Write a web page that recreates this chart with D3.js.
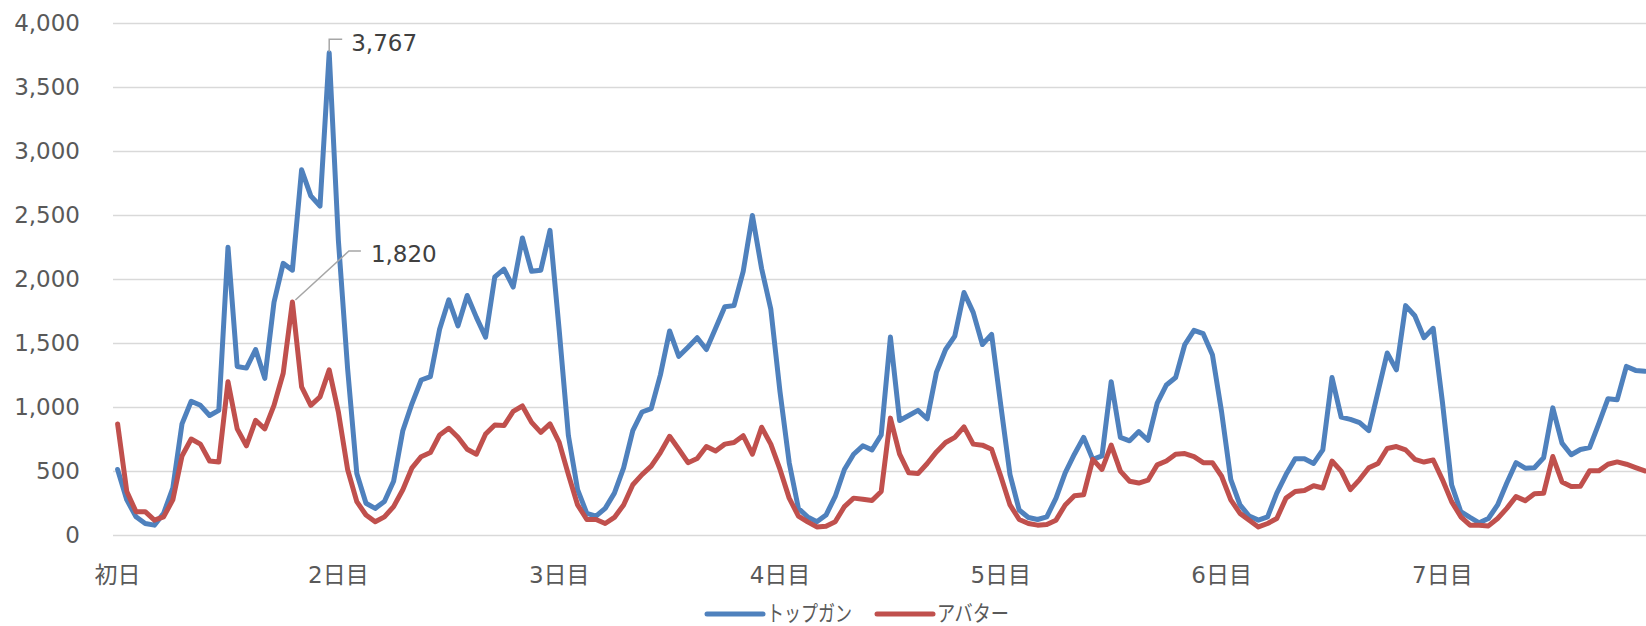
<!DOCTYPE html>
<html>
<head>
<meta charset="utf-8">
<script src="https://cdn.jsdelivr.net/npm/d3@7"></script>
<style>
  body { margin: 0; background: #fff; }
  svg { display: block; font-family: "DejaVu Sans", "Noto Sans CJK JP", sans-serif; }
</style>
</head>
<body>
<svg id="chart" width="1646" height="626"></svg>
<script>
// 日ごとのラベル (24時間ごと)
var dayLabels = ["初日", "2日目", "3日目", "4日目", "5日目", "6日目", "7日目"];
var yTicks = [0, 500, 1000, 1500, 2000, 2500, 3000, 3500, 4000];
var seriesNames = ["トップガン", "アバター"];

// 1時間ごとの値
var topgun = [
  512, 274, 142, 90, 77, 169, 367, 868, 1045, 1013, 934, 974,
  2248, 1317, 1304, 1449, 1224, 1818, 2122, 2069, 2853, 2650, 2570, 3767,
  2300, 1300, 480, 248, 208, 261, 420, 815, 1027, 1211, 1238, 1607,
  1837, 1634, 1871, 1700, 1546, 2016, 2077, 1937, 2320, 2060, 2069, 2380,
  1600, 776, 354, 169, 148, 208, 327, 525, 815, 961, 987, 1251,
  1594, 1396, 1467, 1541, 1449, 1615, 1784, 1792, 2060, 2496, 2082, 1765,
  1119, 565, 208, 142, 103, 156, 301, 512, 631, 697, 665, 781,
  1546, 895, 934, 974, 908, 1270, 1449, 1554, 1895, 1739, 1488, 1568,
  1013, 472, 195, 137, 121, 142, 288, 486, 631, 763, 591, 618,
  1198, 763, 736, 808, 740, 1030, 1172, 1230, 1488, 1599, 1573, 1409,
  961, 433, 235, 148, 116, 142, 327, 472, 596, 596, 559, 665,
  1230, 921, 903, 878, 815, 1119, 1422, 1290, 1792, 1713, 1541, 1615,
  1040, 393, 182, 137, 95, 129, 235, 406, 565, 522, 525, 603,
  993, 718, 627, 668, 683, 870, 1065, 1057, 1317, 1286, 1280
];
var avatar = [
  868, 340, 182, 182, 116, 142, 274, 617, 750, 710, 578, 570,
  1198, 829, 697, 895, 829, 1013, 1264, 1820, 1158, 1013, 1079, 1290,
  960, 512, 261, 156, 103, 142, 222, 354, 525, 612, 644, 781,
  834, 763, 670, 631, 789, 860, 855, 966, 1008, 880, 802, 868,
  723, 472, 235, 121, 121, 90, 137, 235, 393, 472, 538, 644,
  771, 670, 565, 597, 691, 657, 710, 723, 776, 631, 842, 710,
  512, 288, 148, 103, 63, 69, 103, 222, 288, 280, 269, 340,
  913, 631, 486, 480, 559, 649, 723, 763, 845, 710, 702, 670,
  459, 235, 121, 90, 77, 82, 116, 235, 306, 314, 591, 512,
  702, 499, 420, 406, 428, 548, 578, 631, 636, 612, 565, 565,
  459, 274, 169, 116, 63, 90, 129, 288, 340, 348, 385, 367,
  578, 499, 354, 433, 525, 559, 676, 691, 665, 591, 570, 586,
  433, 261, 142, 77, 77, 71, 129, 208, 300, 268, 322, 326,
  613, 414, 379, 381, 501, 501, 553, 571, 553, 527, 501
];

var colors = ["#4F81BD", "#C0504D"];

(function () {
  var svg = d3.select("#chart");

  var plotLeft = 113, plotTop = 23, plotBottom = 535;
  var nCat = dayLabels.length * 24;
  var step = 9.2;

  var x = d3.scaleBand()
    .domain(d3.range(nCat))
    .range([plotLeft, plotLeft + nCat * step]);
  var y = d3.scaleLinear().domain([0, 4000]).range([plotBottom, plotTop]);

  function cx(i) { return x(i) + x.bandwidth() / 2; }

  // grid + y labels
  var yAxis = svg.append("g")
    .attr("transform", "translate(" + plotLeft + ",0)")
    .call(d3.axisLeft(y)
      .tickValues(yTicks)
      .tickFormat(d3.format(","))
      .tickSize(-(1646 - plotLeft))
      .tickPadding(33));
  yAxis.select(".domain").remove();
  yAxis.selectAll(".tick line").attr("stroke", "#D9D9D9").attr("stroke-width", 1.5);
  yAxis.selectAll(".tick text")
    .attr("fill", "#595959")
    .style("font-size", "23px")
    .style("font-family", "DejaVu Sans, sans-serif");

  // x labels
  var xAxis = svg.append("g")
    .attr("transform", "translate(0," + plotBottom + ")")
    .call(d3.axisBottom(x)
      .tickValues(d3.range(0, nCat, 24))
      .tickFormat(function (d) { return dayLabels[d / 24]; })
      .tickSize(0)
      .tickPadding(32));
  xAxis.select(".domain").remove();
  xAxis.selectAll(".tick text")
    .attr("fill", "#595959")
    .style("font-size", "23px")
    .style("font-family", "DejaVu Sans, Noto Sans CJK JP, sans-serif");

  // lines
  var line = d3.line()
    .x(function (d, i) { return cx(i); })
    .y(function (d) { return y(d); });

  [topgun, avatar].forEach(function (s, k) {
    svg.append("path")
      .datum(s)
      .attr("fill", "none")
      .attr("stroke", colors[k])
      .attr("stroke-width", 5)
      .attr("stroke-linejoin", "round")
      .attr("stroke-linecap", "round")
      .attr("d", line);
  });

  // annotations (max of each series)
  var fmt = d3.format(",");
  var iB = d3.maxIndex(topgun), iR = d3.maxIndex(avatar);
  var bx = cx(iB), by = y(topgun[iB]);
  var rx = cx(iR), ry = y(avatar[iR]);

  svg.append("path")
    .attr("d", "M" + bx + "," + (by - 1) + "V" + (by - 13.5) + "H" + (bx + 13))
    .attr("fill", "none").attr("stroke", "#A6A6A6").attr("stroke-width", 1.5);
  svg.append("text")
    .attr("x", bx + 22).attr("y", by - 2)
    .attr("fill", "#404040").style("font-size", "23px")
    .text(fmt(topgun[iB]));

  svg.append("path")
    .attr("d", "M" + (rx + 3) + "," + (ry - 2) + "L" + (rx + 56.5) + "," + (ry - 51) + "H" + (rx + 68.5))
    .attr("fill", "none").attr("stroke", "#A6A6A6").attr("stroke-width", 1.5);
  svg.append("text")
    .attr("x", rx + 78.5).attr("y", ry - 40)
    .attr("fill", "#404040").style("font-size", "23px")
    .text(fmt(avatar[iR]));

  // legend
  var legendX = [707, 877], textLen = [85, 72];
  seriesNames.forEach(function (name, k) {
    var g = svg.append("g").attr("transform", "translate(" + legendX[k] + ",614)");
    g.append("line")
      .attr("x1", 0).attr("x2", 56).attr("y1", 0).attr("y2", 0)
      .attr("stroke", colors[k]).attr("stroke-width", 5)
      .attr("stroke-linecap", "round");
    g.append("text")
      .attr("x", 60).attr("y", 7)
      .attr("fill", "#595959")
      .style("font-size", "22px")
      .style("font-family", "Noto Sans CJK JP, sans-serif")
      .attr("textLength", textLen[k])
      .attr("lengthAdjust", "spacingAndGlyphs")
      .text(name);
  });
})();
</script>
</body>
</html>
